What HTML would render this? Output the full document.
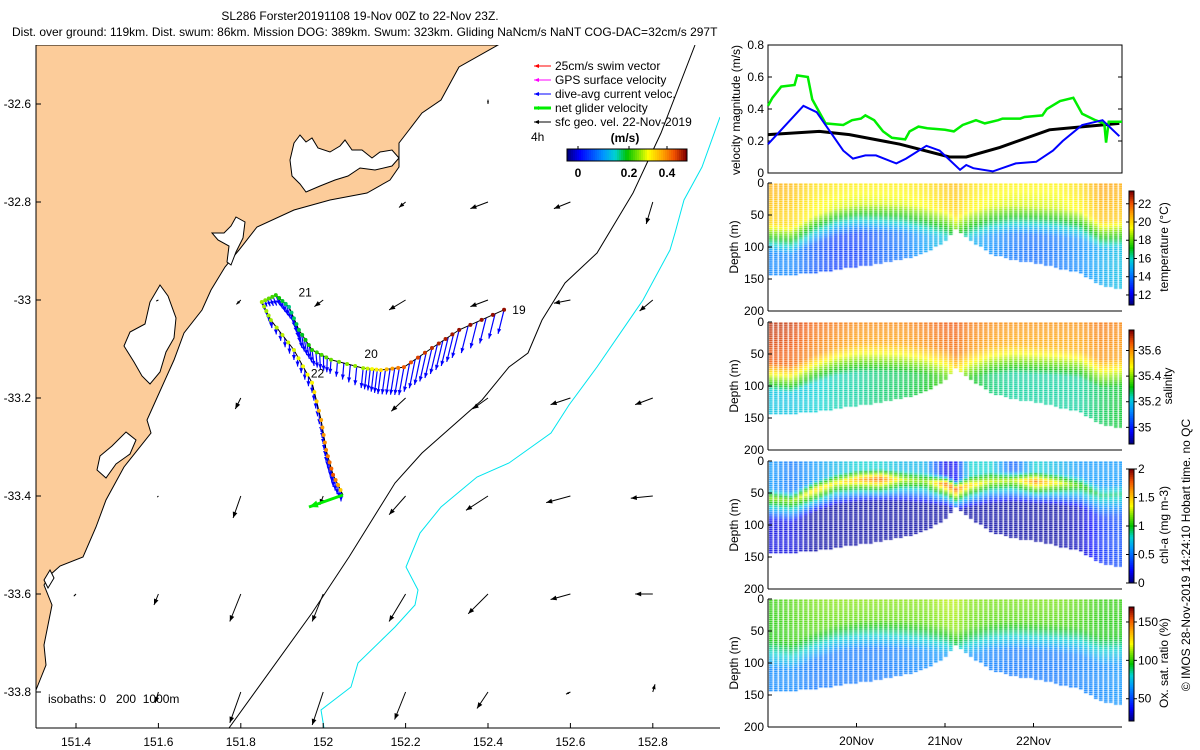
<!DOCTYPE html>
<html><head><meta charset="utf-8">
<style>
body{margin:0;background:#fff;width:1200px;height:750px;overflow:hidden;font-family:"Liberation Sans",sans-serif;}
#wrap{position:relative;width:1200px;height:750px;}
svg{position:absolute;left:0;top:0;}
canvas{position:absolute;}
text{font-family:"Liberation Sans",sans-serif;}
</style></head>
<body>
<div id="wrap">
<canvas id="hm0" width="354" height="128" style="left:768px;top:183px"></canvas>
<canvas id="hm1" width="354" height="128" style="left:768px;top:322px"></canvas>
<canvas id="hm2" width="354" height="128" style="left:768px;top:461px"></canvas>
<canvas id="hm3" width="354" height="128" style="left:768px;top:599px"></canvas>
<svg id="svg" width="1200" height="750" xmlns="http://www.w3.org/2000/svg"></svg>
</div>
<script>
// ===== Velocity panel data (t = days since 19-Nov 00Z) =====
const greenT=[0,0.05,0.15,0.3,0.33,0.45,0.5,0.58,0.65,0.85,0.95,1.05,1.1,1.2,1.3,1.4,1.55,1.6,1.7,1.8,2.0,2.1,2.2,2.35,2.45,2.6,2.65,2.85,2.9,3.1,3.15,3.3,3.45,3.55,3.7,3.8,3.82,3.85,4.0];
const greenV=[0.42,0.47,0.54,0.55,0.61,0.6,0.46,0.38,0.31,0.3,0.33,0.34,0.36,0.33,0.26,0.22,0.21,0.26,0.29,0.28,0.27,0.26,0.3,0.33,0.31,0.33,0.34,0.34,0.35,0.36,0.4,0.45,0.47,0.37,0.33,0.31,0.19,0.32,0.32];
const blueT=[0,0.4,0.55,0.85,0.96,1.1,1.22,1.45,1.56,1.79,1.94,2.17,2.24,2.32,2.54,2.8,3.03,3.22,3.33,3.55,3.78,3.97];
const blueV=[0.18,0.42,0.38,0.14,0.09,0.11,0.11,0.06,0.09,0.17,0.14,0.02,0.05,0.03,0.01,0.06,0.07,0.14,0.2,0.3,0.33,0.23];
const blackT=[0,0.58,0.92,1.49,2.05,2.24,2.62,3.18,3.97];
const blackV=[0.24,0.26,0.24,0.18,0.1,0.1,0.16,0.27,0.31];
const velTicks=[0,0.2,0.4,0.6,0.8];
const dayTicks=[1,2,3];const dayLabels=["20Nov","21Nov","22Nov"];
// ===== Section data =====
const nodeT=[0,0.25,0.5,0.75,1.0,1.25,1.5,1.75,2.0,2.1,2.25,2.5,2.75,3.0,3.25,3.5,3.75,4.0];
const bottomDepth=[145,143,140,135,130,125,118,110,90,72,88,110,120,125,132,140,160,165];
const mldDepth=[62,66,50,38,33,32,33,36,40,48,42,36,34,36,38,42,58,55];
const tempSurf=[20.8,20.6,20.0,19.8,19.7,19.7,19.7,19.9,20.4,20.5,20.0,19.7,19.6,19.6,19.6,20.0,21.0,20.8];
const tempDeep=[14.3,14.3,13.5,13,13,13.6,14,14.8,15.6,16.2,15.3,14.5,14,13.8,14,14.4,15,15.5];
const salSurf=[35.72,35.7,35.66,35.64,35.62,35.62,35.62,35.64,35.67,35.67,35.64,35.62,35.61,35.61,35.61,35.61,35.64,35.62];
const salDeep=[35.2,35.2,35.22,35.24,35.25,35.27,35.28,35.3,35.36,35.4,35.32,35.27,35.25,35.25,35.25,35.25,35.28,35.3];
const chlSurf=[0.6,0.5,0.6,0.7,0.8,0.8,0.7,0.7,0.15,0.2,0.8,0.8,0.4,0.8,0.7,0.6,0.6,0.6];
const chlMax=[1.2,1.2,1.5,1.4,1.6,1.8,1.3,1.2,1.8,1.8,1.5,1.3,1.3,1.7,1.4,1.1,0.9,0.9];
const chlDeep=[0.15,0.15,0.05,0.05,0.05,0.05,0.05,0.05,0.05,0.05,0.05,0.05,0.05,0.05,0.05,0.1,0.3,0.4];
const oxSurf=[100,104,108,110,110,110,110,110,115,115,110,108,108,108,108,105,100,100];
const oxDeep=[62,62,58,58,58,58,60,62,66,68,64,60,58,58,58,60,62,65];
const tempRange=[10.9,23.4],salRange=[34.87,35.76],chlRange=[0,2],oxRange=[21,169.5];
const tempTicks=[12,14,16,18,20,22],salTicks=[35,35.2,35.4,35.6],chlTicks=[0,0.5,1,1.5,2],oxTicks=[50,100,150];
const depthTicks=[0,50,100,150,200];
// ===== Map data =====
const lonTicks=[151.4,151.6,151.8,152,152.2,152.4,152.6,152.8];
const latTicks=[-32.6,-32.8,-33,-33.2,-33.4,-33.6,-33.8];
const trackLon=[152.439,152.330,152.264,152.196,152.140,152.097,152.019,151.973,151.941,151.917,151.885,151.851,151.873,151.929,151.973,151.995,152.007,152.024,152.048];
const trackLat=[-33.020,-33.061,-33.098,-33.137,-33.143,-33.139,-33.122,-33.102,-33.061,-33.014,-32.990,-33.004,-33.041,-33.102,-33.169,-33.245,-33.306,-33.357,-33.398];
const trackSpeed=[0.5,0.5,0.48,0.45,0.36,0.3,0.28,0.25,0.22,0.2,0.25,0.3,0.3,0.32,0.34,0.4,0.42,0.45,0.35];
const dacU=[-0.06,-0.07,-0.07,-0.05,-0.03,-0.02,-0.01,0.02,0.03,0.04,0.04,0.02,0.01,0.0,0.0,0.0,0.0,0.0,0.0];
const dacV=[-0.24,-0.28,-0.3,-0.28,-0.24,-0.2,-0.14,-0.16,-0.18,-0.15,-0.1,-0.05,-0.08,-0.1,-0.1,-0.12,-0.12,-0.12,-0.1];
const geoLon=[152.2,152.4,152.6,152.8, 151.6,151.8,152.0,152.2,152.4,152.6,152.8, 151.8,152.2,152.4,152.6,152.8, 151.6,151.8,152.0,152.2,152.4,152.6,152.8,153.0, 151.4,151.6,151.8,152.0,152.2,152.4,152.6,152.8, 151.6,151.8,152.0,152.2,152.4,152.6,152.8, 152.4];
const geoLat=[-32.8,-32.8,-32.8,-32.8, -33,-33,-33,-33,-33,-33,-33, -33.2,-33.2,-33.2,-33.2,-33.2, -33.4,-33.4,-33.4,-33.4,-33.4,-33.4,-33.4,-33.4, -33.6,-33.6,-33.6,-33.6,-33.6,-33.6,-33.6,-33.6, -33.8,-33.8,-33.8,-33.8,-33.8,-33.8,-33.8, -32.6];
const geoU=[-0.06,-0.16,-0.15,-0.06, -0.02,-0.04,-0.08,-0.15,-0.16,-0.15,-0.12, -0.05,-0.13,-0.14,-0.18,-0.16, -0.01,-0.07,-0.03,-0.15,-0.2,-0.22,-0.2,-0.05, -0.02,-0.04,-0.1,-0.1,-0.15,-0.18,-0.18,-0.16, -0.03,-0.1,-0.1,-0.1,-0.1,-0.04,0.02, 0.0];
const geoV=[-0.05,-0.06,-0.06,-0.2, -0.01,-0.04,-0.06,-0.09,-0.06,-0.03,-0.1, -0.1,-0.12,-0.1,-0.06,-0.06, -0.01,-0.2,-0.08,-0.17,-0.13,-0.06,-0.02,0.0, -0.02,-0.1,-0.25,-0.25,-0.25,-0.18,-0.05,0.0, -0.1,-0.28,-0.3,-0.25,-0.15,-0.02,0.07, 0.04];

const NS="http://www.w3.org/2000/svg";
const svg=document.getElementById('svg');
function el(tag,attrs,parent,txt){const e=document.createElementNS(NS,tag);for(const k in attrs)e.setAttribute(k,attrs[k]);if(txt!==undefined)e.textContent=txt;(parent||svg).appendChild(e);return e;}
const cmapStops=[[0,[0,0,130]],[0.1,[0,0,255]],[0.3,[0,150,255]],[0.4,[0,210,210]],[0.5,[0,195,0]],[0.6,[130,230,0]],[0.68,[255,255,0]],[0.8,[255,165,0]],[0.9,[240,80,0]],[1,[128,0,0]]];
function jet(v){v=Math.max(0,Math.min(1,v));for(let i=1;i<cmapStops.length;i++){if(v<=cmapStops[i][0]){const a=cmapStops[i-1],b=cmapStops[i],f=(v-a[0])/(b[0]-a[0]);const c=a[1].map((x,k)=>Math.round(x+f*(b[1][k]-x)));return `rgb(${c[0]},${c[1]},${c[2]})`;}}return 'rgb(128,0,0)';}
function interp(xs,ys,x){if(x<=xs[0])return ys[0];for(let i=1;i<xs.length;i++){if(x<=xs[i]){const f=(x-xs[i-1])/(xs[i]-xs[i-1]);return ys[i-1]+f*(ys[i]-ys[i-1]);}}return ys[ys.length-1];}

// ===== Titles =====
let t1=el('text',{x:360,y:20,'font-size':12,'text-anchor':'middle'},svg,'SL286 Forster20191108 19-Nov 00Z to 22-Nov 23Z.');

let t2=el('text',{x:12,y:36,'font-size':12},svg,'Dist. over ground: 119km. Dist. swum: 86km. Mission DOG: 389km. Swum: 323km. Gliding NaNcm/s NaNT COG-DAC=32cm/s 297T');


// ===== MAP =====
const MX0=36,MX1=720,MY0=45,MY1=728;
const lx=lon=>76+(lon-151.4)*412;
const ly=lat=>300+(-33-lat)*490;
const mapG=el('g',{});

const cp=el('clipPath',{id:'mapclip'},svg);
el('rect',{x:MX0,y:MY0,width:MX1-MX0,height:MY1-MY0},cp);
const mg=el('g',{'clip-path':'url(#mapclip)'},mapG);
const coast="36,45 498,45 459,67 441,100 422,113 409,130 399,143 399,167 390,180 367,193 330,200 294,210 257,227 239,250 225,267 211,290 202,310 184,333 174,360 156,400 147,420 151,433 124,467 106,500 96,527 83,557 60,566 50,575 44,585 52,605 48,625 44,645 46,665 40,680 36,690";
let land=el('polygon',{points:coast,fill:'#fccc9a',stroke:'#000','stroke-width':1},mg);

const lagoons=["294,143 300,135 306,142 312,138 318,148 330,152 340,146 345,140 352,150 362,150 372,158 380,152 392,150 399,158 392,166 375,170 360,168 348,176 335,180 320,186 306,192 300,184 292,176 290,160","236,217 245,222 243,238 236,252 231,265 227,262 229,246 218,240 212,233 224,233 231,226","160,285 168,296 176,318 174,338 166,352 160,372 150,384 142,376 134,362 124,346 130,332 145,324 150,302","126,432 136,440 130,454 116,464 106,478 97,470 100,456 112,446","50,570 54,578 48,588 44,580"];
lagoons.forEach(p=>{let l=el('polygon',{points:p,fill:'#fff',stroke:'#000','stroke-width':1},mg);});
let iso200=el('polyline',{points:"695,45 661,133 633,193 597,253 565,283 542,320 528,353 509,367 482,400 422,453 395,483 349,557 312,613 229,728",fill:'none',stroke:'#000','stroke-width':1},mg);

let iso1000=el('polyline',{points:"720,117 702,167 684,200 675,233 670,250 643,300 597,367 569,405 551,433 509,463 477,477 441,507 420,533 406,567 418,590 415,605 395,627 358,663 351,687 321,710 324,728",fill:'none',stroke:'#00e5ee','stroke-width':1},mg);


function arrow(g,x,y,dx,dy,color,w,head){
  const len=Math.hypot(dx,dy);if(len<0.5)return;
  el('line',{x1:x,y1:y,x2:x+dx,y2:y+dy,stroke:color,'stroke-width':w},g);
  const ux=dx/len,uy=dy/len,h=Math.min(head,len*0.6);
  const bx=x+dx-ux*h,by=y+dy-uy*h;
  el('polygon',{points:`${x+dx},${y+dy} ${bx-uy*h*0.4},${by+ux*h*0.4} ${bx+uy*h*0.4},${by-ux*h*0.4}`,fill:color},g);
}
const geoG=el('g',{},mg);
for(let i=0;i<geoLon.length;i++){arrow(geoG,lx(geoLon[i]),ly(geoLat[i]),geoU[i]*110,-geoV[i]*110,'#000',1,6);}
const dacG=el('g',{},mg);
for(let i=0;i<trackLon.length-1;i++){for(let k=0;k<5;k++){const f=k/5;
  const x=lx(trackLon[i]+f*(trackLon[i+1]-trackLon[i])),y=ly(trackLat[i]+f*(trackLat[i+1]-trackLat[i]));
  const u=dacU[i]+f*(dacU[i+1]-dacU[i]),v=dacV[i]+f*(dacV[i+1]-dacV[i]);
  arrow(dacG,x,y,u*100,-v*100,'#0000ff',1.2,5);}}
const trG=el('g',{},mg);
el('polyline',{points:trackLon.map((l,i)=>lx(l)+','+ly(trackLat[i])).join(' '),fill:'none',stroke:'#000','stroke-width':1},trG);
for(let i=0;i<trackLon.length-1;i++){for(let k=0;k<4;k++){const f=k/4;
  const x=lx(trackLon[i]+f*(trackLon[i+1]-trackLon[i])),y=ly(trackLat[i]+f*(trackLat[i+1]-trackLat[i]));
  const s=trackSpeed[i]+f*(trackSpeed[i+1]-trackSpeed[i]);
  el('circle',{cx:x,cy:y,r:2,fill:jet((s+0.04)/0.55)},trG);}}
const nx=lx(trackLon[trackLon.length-1]),ny=ly(trackLat[trackLat.length-1]);
let net=el('g',{},mg);
arrow(net,nx,ny,-34,12,'#00ee00',3,9);
[['19',trackLon[0]+0.02,trackLat[0]],['20',152.1,-33.11],['21',151.94,-32.985],['22',151.97,-33.15]].forEach(d=>{let t=el('text',{x:lx(d[1]),y:ly(d[2])+4,'font-size':12},mg,d[0]);});
el('line',{x1:MX0,y1:MY1,x2:MX1,y2:MY1,stroke:'#000'},mapG);
el('line',{x1:MX0,y1:MY0,x2:MX0,y2:MY1,stroke:'#000'},mapG);
lonTicks.forEach(l=>{const x=lx(l);el('line',{x1:x,y1:MY1,x2:x,y2:MY1-5,stroke:'#000'},mapG);let t=el('text',{x:x,y:746,'font-size':12,'text-anchor':'middle'},mapG,String(l));});
latTicks.forEach(l=>{const y=ly(l);el('line',{x1:MX0,y1:y,x2:MX0+5,y2:y,stroke:'#000'},mapG);let t=el('text',{x:31,y:y+4,'font-size':12,'text-anchor':'end'},mapG,String(l));});
let isoT=el('text',{x:48,y:703,'font-size':12,style:'white-space:pre'},mapG,'isobaths: 0   200  1000m');
const legG=el('g',{});
const legItems=[['25cm/s swim vector','#ff0000',1],['GPS surface velocity','#ff00ff',1],['dive-avg current veloc.','#0000ff',1],['net glider velocity','#00ee00',3],['sfc geo. vel. 22-Nov-2019','#000',1]];
legItems.forEach((it,i)=>{const y=66+i*14;arrow(legG,551,y,-17,0,it[1],it[2],5);let t=el('text',{x:555,y:y+4,'font-size':12},legG,it[0]);});
el('text',{x:531,y:141,'font-size':12},legG,'4h');
el('text',{x:625,y:142,'font-size':12,'font-weight':'bold','text-anchor':'middle'},legG,'(m/s)');
for(let i=0;i<60;i++){el('rect',{x:567+i*2,y:149,width:2.2,height:12,fill:jet(i/59)},legG);}
el('rect',{x:567,y:149,width:120,height:12,fill:'none',stroke:'#000'},legG);
[[0,578],[0.2,629],[0.4,667]].forEach(d=>{el('line',{x1:d[1],y1:149,x2:d[1],y2:146,stroke:'#000'},legG);el('text',{x:d[1],y:177,'font-size':12,'font-weight':'bold','text-anchor':'middle'},legG,String(d[0]));});

// ===== RIGHT PANELS =====
const PX0=768,PX1=1122,DAY=88.5;
const tx=t=>PX0+t*DAY;
const VY0=173,VY1=45;
const vy=v=>VY0-(v/0.8)*(VY0-VY1);
const vG=el('g',{});
el('rect',{x:PX0,y:VY1,width:PX1-PX0,height:VY0-VY1,fill:'#fff',stroke:'#000'},vG);
velTicks.forEach(v=>{const y=vy(v);el('line',{x1:PX0,y1:y,x2:PX0+4,y2:y,stroke:'#000'},vG);el('line',{x1:PX1,y1:y,x2:PX1-4,y2:y,stroke:'#000'},vG);let t=el('text',{x:764,y:y+4,'font-size':12,'text-anchor':'end'},vG,String(v));});
let vyl=el('text',{x:0,y:0,'font-size':12,'text-anchor':'middle',transform:'translate(740,110) rotate(-90)'},vG,'velocity magnitude (m/s)');
function series(ts,vs,color,w,name){let p=el('polyline',{points:ts.map((t,i)=>tx(t)+','+vy(vs[i])).join(' '),fill:'none',stroke:color,'stroke-width':w},vG);}
series(blackT,blackV,'#000',3,'sfc-geo-velocity-line');
series(greenT,greenV,'#00ee00',2.5,'net-glider-velocity-line');
series(blueT,blueV,'#0000ff',2,'dive-avg-current-line');

const panels=[
 {id:'hm0',top:183,range:tempRange,ticks:tempTicks,title:'temperature (°C)',surf:tempSurf,deep:tempDeep,name:'temperature'},
 {id:'hm1',top:322,range:salRange,ticks:salTicks,title:'salinity',surf:salSurf,deep:salDeep,name:'salinity'},
 {id:'hm2',top:461,range:chlRange,ticks:chlTicks,title:'chl-a (mg m-3)',surf:chlSurf,deep:chlDeep,max:chlMax,name:'chlorophyll'},
 {id:'hm3',top:599,range:oxRange,ticks:oxTicks,title:'Ox. sat. ratio (%)',surf:oxSurf,deep:oxDeep,name:'oxygen'}];
const PH=128;
panels.forEach(p=>{
  const ctx=document.getElementById(p.id).getContext('2d');
  const dy=d=>d/200*PH;
  for(let cx=1;cx<354;cx+=5){
    const t=cx/DAY;
    const bot=interp(nodeT,bottomDepth,t),mld=interp(nodeT,mldDepth,t),s=interp(nodeT,p.surf,t),dp=interp(nodeT,p.deep,t);
    const mx=p.max?interp(nodeT,p.max,t):0;
    for(let d=1;d<bot;d+=3){
      let v;
      if(p.max){
        if(d<mld-20)v=s;
        else if(d<mld-5)v=s+(mx-s)*(d-(mld-20))/15;
        else if(d<mld+30)v=mx+(dp-mx)*(d-mld+5)/35;
        else v=dp;
      }else{
        if(d<mld)v=s+(d/mld)*0.1*(dp-s);
        else v=s+0.1*(dp-s)+Math.min(1,(d-mld)/45)*0.9*(dp-s);
      }
      ctx.fillStyle=jet((v-p.range[0])/(p.range[1]-p.range[0]));
      ctx.fillRect(cx,dy(d),3.6,dy(3)-0.6);
    }
  }
  const g=el('g',{});
  el('line',{x1:PX0,y1:p.top,x2:PX0,y2:p.top+PH,stroke:'#000'},g);
  el('line',{x1:PX0,y1:p.top+PH,x2:PX1,y2:p.top+PH,stroke:'#000'},g);
  depthTicks.forEach(d=>{const y=p.top+dy(d);el('line',{x1:PX0,y1:y,x2:PX0+4,y2:y,stroke:'#000'},g);let t=el('text',{x:764,y:y+4,'font-size':12,'text-anchor':'end'},g,String(d));});
  let yl=el('text',{x:0,y:0,'font-size':12,'text-anchor':'middle',transform:`translate(738,${p.top+64}) rotate(-90)`},g,'Depth (m)');
  const cb0=p.top+8,cb1=p.top+122;
  const cy=v=>cb1-(v-p.range[0])/(p.range[1]-p.range[0])*(cb1-cb0);
  for(let i=0;i<57;i++){el('rect',{x:1129,y:cb1-(i+1)*2,width:5,height:2.2,fill:jet(i/56)},g);}
  el('rect',{x:1129,y:cb0,width:5,height:cb1-cb0,fill:'none',stroke:'#000','stroke-width':1},g);
  p.ticks.forEach(v=>{const y=cy(v);el('line',{x1:1134,y1:y,x2:1137,y2:y,stroke:'#000'},g);el('line',{x1:1126,y1:y,x2:1129,y2:y,stroke:'#000'},g);let t=el('text',{x:1138,y:y+4,'font-size':12},g,String(v));});
  let ct=el('text',{x:0,y:0,'font-size':12,'text-anchor':'middle',transform:`translate(${p.name==='salinity'?1172:1168},${p.top+64}) rotate(-90)`},g,p.title);
});
dayTicks.forEach((d,i)=>{const x=tx(d);el('line',{x1:x,y1:727,x2:x,y2:723,stroke:'#000'});let t=el('text',{x:x,y:745,'font-size':12,'text-anchor':'middle'},svg,dayLabels[i]);});
let cr=el('text',{x:0,y:0,'font-size':12,'text-anchor':'middle',transform:'translate(1190,555) rotate(-90)'},svg,'© IMOS 28-Nov-2019 14:24:10 Hobart time. no QC');
</script>
</body></html>
